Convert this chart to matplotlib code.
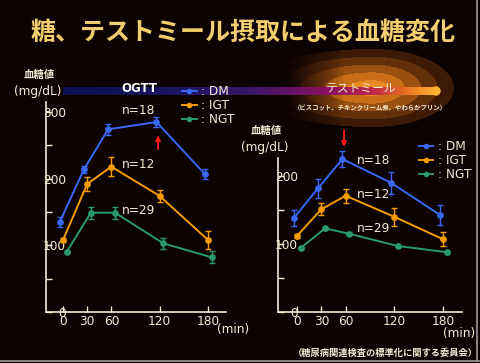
import numpy as np
import matplotlib
matplotlib.use("Agg")
import matplotlib.pyplot as plt
from matplotlib.colors import LinearSegmentedColormap
from matplotlib.lines import Line2D
from matplotlib.patches import Ellipse

plt.rcParams['font.family'] = ['DejaVu Sans', 'Noto Sans CJK JP']
JP = ['Noto Sans CJK JP', 'DejaVu Sans']

# ---- data (mg/dL, mean +/- error) ----
time_min = [0, 30, 60, 120, 180]
groups = ["DM", "IGT", "NGT"]

ogtt_dm = [135, 214, 274, 285, 207]
ogtt_dm_err = [8, 5, 8, 7, 8]
ogtt_igt = [108, 192, 218, 174, 108]
ogtt_igt_err = [3, 10, 14, 9, 14]
ogtt_ngt = [90, 149, 149, 103, 82]
ogtt_ngt_err = [2, 9, 9, 8, 9]

meal_dm = [138, 182, 225, 190, 143]
meal_dm_err = [12, 14, 12, 16, 15]
meal_igt = [112, 151, 171, 140, 107]
meal_igt_err = [3, 9, 10, 13, 10]
meal_ngt = [94, 123, 115, 97, 88]
meal_ngt_err = [2, 2, 2, 2, 2]

n_labels = ["n=18", "n=12", "n=29"]
title = "糖、テストミール摂取による血糖変化"

# ---- style ----
BG = "#0c0202"
CREAM = "#f2ecd2"
COLORS = {"DM": "#3a68f5", "IGT": "#f59c00", "NGT": "#2a9a6c"}
OFFS = {"DM": -4, "IGT": 0, "NGT": 4.5}
W, H = 481, 363

fig = plt.figure(figsize=(W / 100, H / 100), dpi=100, facecolor=BG)

# decoration layer in pixel coords
deco = fig.add_axes([0, 0, 1, 1], zorder=0)
deco.set_facecolor(BG)

# orange glow behind the "test meal" end of the band
yy, xx = np.mgrid[0:H, 0:W] + 0.5
cx, cy = 372, 88
a = np.where(xx < cx, 120, 82)
d = np.hypot((xx - cx) / a, (yy - cy) / 39)
inten = np.ceil(np.clip(1 - d, 0, 1) * 5) / 5
inten = inten * np.clip((xx - 285) / 60, 0, 1)
glow_cmap = LinearSegmentedColormap.from_list("glow", [
    (0.0, BG), (0.2, "#3c1a06"), (0.4, "#64300a"), (0.6, "#9a5010"),
    (0.8, "#c86e16"), (1.0, "#e88a24")])
deco.imshow(inten, cmap=glow_cmap, vmin=0, vmax=1, extent=(0, W, H, 0),
            interpolation="bilinear", zorder=0)

band_cmap = LinearSegmentedColormap.from_list("band", [
    (0.0, "#0c1050"), (0.3, "#1a1660"), (0.5, "#3a1868"), (0.7, "#861062"),
    (0.84, "#c02a48"), (0.92, "#e87020"), (1.0, "#ffb330")])
deco.imshow(np.linspace(0, 1, 256)[None, :], cmap=band_cmap,
            extent=(63, 436, 95, 87), aspect="auto", zorder=1)
deco.add_patch(Ellipse((436, 91), 8, 8, color="#ffb330", zorder=1))

deco.plot([0, W], [360.5, 360.5], color="#9a9a9a", lw=1.2, zorder=2)
deco.plot([477.5, 477.5], [0, 361], color="#9a9a9a", lw=1.2, zorder=2)
deco.set_xlim(0, W)
deco.set_ylim(H, 0)
deco.set_aspect("auto")
deco.axis("off")

deco.text(243, 33, title, fontsize=18, fontweight="bold", color="#f2cf6e",
          ha="center", va="center", family=JP)
deco.text(139, 89, "OGTT", fontsize=8.5, fontweight="bold", color="white",
          ha="center", va="center")
deco.text(361, 88, "テストミール", fontsize=8.5, color=CREAM,
          ha="center", va="center", family=JP)
deco.text(370, 108, "（ビスコット、チキンクリーム煮、やわらかプリン）", fontsize=4.6,
          fontweight="bold", color=CREAM, ha="center", va="center", family=JP)
for x, y1, y2 in [(39, 75, 92), (266, 131, 148)]:
    deco.text(x, y1, "血糖値", fontsize=7.5, fontweight="bold", color=CREAM,
              ha="center", va="center", family=JP)
    deco.text(x - 1, y2, "(mg/dL)", fontsize=8.7, color=CREAM, ha="center", va="center")
deco.text(233, 330, "(min)", fontsize=8.7, color=CREAM, ha="center", va="center")
deco.text(459, 333, "(min)", fontsize=8.7, color=CREAM, ha="center", va="center")
deco.text(478, 353, "（糖尿病関連検査の標準化に関する委員会）", fontsize=6.7,
          fontweight="bold", color=CREAM, ha="right", va="center", family=JP)


def panel(rect, xlim, ylim, yticks, minor, series, legend_xy):
    ax = fig.add_axes([rect[0] / W, 1 - rect[3] / H, (rect[2] - rect[0]) / W,
                       (rect[3] - rect[1]) / H], zorder=2)
    ax.set_facecolor("none")
    for g, (vals, err) in zip(groups, series):
        ax.errorbar(np.array(time_min) + OFFS[g], vals, yerr=err, fmt="-o",
                    color=COLORS[g], ms=3.8, lw=1.4, elinewidth=1,
                    capsize=2.5, capthick=1, clip_on=False)
    ax.set_xlim(*xlim)
    ax.set_ylim(*ylim)
    ax.set_xticks(time_min)
    ax.set_yticks(yticks)
    ax.set_yticks(minor, minor=True)
    for s in ["top", "right"]:
        ax.spines[s].set_visible(False)
    for s in ["left", "bottom"]:
        ax.spines[s].set_color(CREAM)
        ax.spines[s].set_linewidth(1.2)
    ax.tick_params(which="both", direction="in", length=4, width=1, color=CREAM,
                   labelcolor=CREAM, labelsize=8.7)
    ax.tick_params(axis="y", which="both", pad=-14.4)
    ax.tick_params(axis="x", pad=2)
    handles = [Line2D([], [], color=COLORS[g], marker="o", ms=3, lw=1.4) for g in groups]
    ax.legend(handles, [": " + g for g in groups], loc="upper left",
              bbox_to_anchor=(legend_xy[0] / W, 1 - legend_xy[1] / H),
              bbox_transform=fig.transFigure, frameon=False, fontsize=8.7,
              labelcolor=CREAM, handlelength=1.2, handletextpad=0.35,
              labelspacing=0.08, borderpad=0, borderaxespad=0)
    return ax


axL = panel((46, 102, 226, 312), (-21.1, 202.3), (0, 315), [0, 100, 200, 300],
            [50, 150, 250],
            [(ogtt_dm, ogtt_dm_err), (ogtt_igt, ogtt_igt_err), (ogtt_ngt, ogtt_ngt_err)],
            (182, 85))
axR = panel((278, 158, 462, 312), (-23.4, 203.4), (0, 226.5), [0, 100, 200],
            [50, 150],
            [(meal_dm, meal_dm_err), (meal_igt, meal_igt_err), (meal_ngt, meal_ngt_err)],
            (419, 140))

for ax, ys in [(axL, (301.5, 220.5, 151.5)), (axR, (223.5, 173.5, 123.5))]:
    for lab, y in zip(n_labels, ys):
        ax.text(94, y, lab, fontsize=8.7, color=CREAM, ha="center", va="center")

arrow = dict(arrowstyle="-|>", color="#ff1a1a", lw=1.3, mutation_scale=7,
             shrinkA=0, shrinkB=0)
axL.annotate("", xy=(118, 265), xytext=(118, 244), arrowprops=arrow,
             annotation_clip=False)
axR.annotate("", xy=(58, 243), xytext=(58, 267), arrowprops=arrow,
             annotation_clip=False)

fig.savefig("out.png", dpi=100, facecolor=BG)
